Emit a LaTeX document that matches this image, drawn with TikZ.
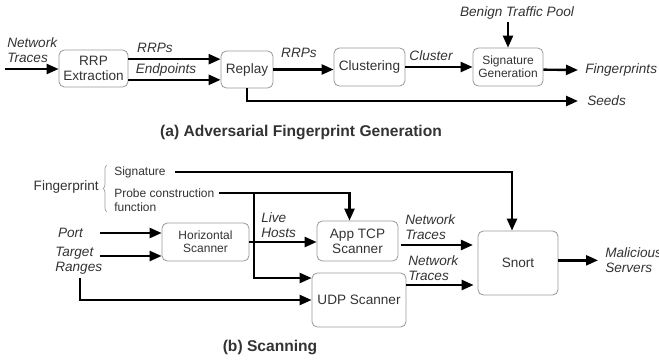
\documentclass[tikz,border=0pt]{standalone}
\usepackage{fontspec}
\setmainfont{Liberation Sans}
\usetikzlibrary{arrows.meta,decorations.pathreplacing}
\definecolor{txt}{HTML}{333333}
\definecolor{rim}{HTML}{999999}

\begin{document}
\begin{tikzpicture}[x=0.75pt,y=-0.75pt,
  box/.style={draw=rim, line width=0.6pt, rounded corners=4pt, align=center, text=txt,
    inner sep=0pt, font=\fontsize{10.2}{11.3}\selectfont},
  smallbox/.style={box, font=\fontsize{9}{10}\selectfont},
  lab/.style={text=txt, inner sep=0pt, align=left, font=\fontsize{10.2}{11.3}\selectfont\itshape},
  pil/.style={line width=1.8pt, -{Triangle[length=9pt,width=7.5pt]}},
  captext/.style={text=txt, font=\fontsize{11.7}{13}\selectfont\bfseries}]
  \useasboundingbox (0,0) rectangle (659,360);

  % (a) kassar
  \node [box, minimum width=51.75pt, minimum height=27.75pt] (rrp) at (93.5,68.5) {RRP\\Extraction};
  \node [box, minimum width=39pt, minimum height=27.75pt] (replay) at (247,69.5) {Replay};
  \node [box, minimum width=53.25pt, minimum height=28.5pt] (clus) at (369.5,67) {Clustering};
  \node [smallbox, minimum width=52.5pt, minimum height=28.5pt] (siggen) at (508,67) {Signature\\Generation};

  % (a) textar
  \node [lab, anchor=west] (traces) at (7,50) {Network\\Traces};
  \node [lab] (l-rrps) at (155,48) {RRPs};
  \node [lab] (l-endp) at (166,70) {Endpoints};
  \node [lab] (l-rrps2) at (299,53) {RRPs};
  \node [lab] (l-clus) at (431,56) {Cluster};
  \node [lab] (benign) at (517,13) {Benign Traffic Pool};
  \node [lab, anchor=west] (fps) at (585,70) {Fingerprints};
  \node [lab, anchor=west] (seeds) at (587,101) {Seeds};

  % (a) orvar
  \coordinate (in1) at (5,69);
  \draw [pil] (in1) -- (in1 -| rrp.west);
  \draw [pil] ([yshift=7pt]rrp.east) -- ([yshift=7pt]replay.west |- rrp.east);
  \draw [pil] ([yshift=-8.5pt]rrp.east) -- ([yshift=-8.5pt]replay.west |- rrp.east);
  \draw [pil] (replay.east) -- (replay.east -| clus.west);
  \draw [pil] (replay.south) |- ([xshift=-6.75pt]seeds.west);
  \draw [pil] (clus.east) -- (siggen.west);
  \draw [pil] ([yshift=-2pt]siggen.north |- benign.south) -- (siggen.north);
  \draw [pil] ([yshift=-2pt]siggen.east) -- ([xshift=-5.25pt]fps.west);

  \node [captext] (capa) at (301,132) {(a) Adversarial Fingerprint Generation};

  % (b) kassar
  \node [smallbox, minimum width=65.25pt, minimum height=28.5pt] (hscan) at (205.5,242) {Horizontal\\Scanner};
  \node [box, minimum width=60.75pt, minimum height=30pt] (app) at (357.5,241) {App TCP\\Scanner};
  \node [box, minimum width=70.5pt, minimum height=40.5pt] (udp) at (359,300) {UDP Scanner};
  \node [box, minimum width=60pt, minimum height=48pt] (snort) at (518,263) {Snort};

  % (b) textar
  \node [lab, anchor=east, font=\fontsize{10.2}{11.3}\selectfont] (fp) at (99,187) {Fingerprint};
  \node [lab, anchor=west, font=\fontsize{9}{10}\selectfont] (sig) at (114,172) {Signature};
  \node [lab, anchor=west, font=\fontsize{9}{10.5}\selectfont] (probe) at (114,200) {Probe construction\\function};
  \node [lab] (port) at (70.5,233) {Port};
  \node [lab, anchor=west] (tr) at (55,260.5) {Target\\Ranges};
  \node [lab, anchor=west] (l-live) at (261,225.5) {Live\\Hosts};
  \node [lab, anchor=west] (l-nt1) at (405,227.5) {Network\\Traces};
  \node [lab, anchor=west] (l-nt2) at (408,268) {Network\\Traces};
  \node [lab, anchor=west] (mal) at (605,260) {Malicious\\Servers};

  % slaufa
  \draw [draw=rim, line width=0.5pt, decorate, decoration={brace, amplitude=3pt}]
    (107,212) -- (107,165);

  % (b) orvar
  \draw [pil] ([xshift=6.75pt]sig.east) -| ([xshift=-4.5pt]snort.north);
  \draw [pil] ([xshift=3pt,yshift=5.25pt]probe.east) -| ([xshift=-6pt]app.north);
  \coordinate (jn) at (254,193);
  \draw [pil] (jn) |- ([yshift=16.5pt]udp.west);
  \draw [pil] ([xshift=22pt]port.center) -- (hscan.west |- port);
  \draw [pil] ([xshift=-46.5pt,yshift=-10.5pt]hscan.west) -- ([yshift=-10.5pt]hscan.west);
  \draw [pil] ([xshift=1pt,yshift=-3pt]tr.south) |- (udp.west);
  \draw [pil] (hscan.east) -- (hscan.east -| app.west);
  \draw [pil] ([xshift=2pt,yshift=-3pt]app.east) -- ([xshift=-3.5pt,yshift=-3pt]snort.west |- app.east);
  \draw [pil] ([yshift=11.25pt]udp.east) -- ([xshift=-3pt,yshift=11.25pt]snort.west |- udp.east);
  \draw [pil] ([yshift=2pt]snort.east) -- ([xshift=-5.25pt,yshift=2pt]mal.west |- snort.east);

  \node [captext] (capb) at (270,347) {(b) Scanning};
\end{tikzpicture}
\end{document}
